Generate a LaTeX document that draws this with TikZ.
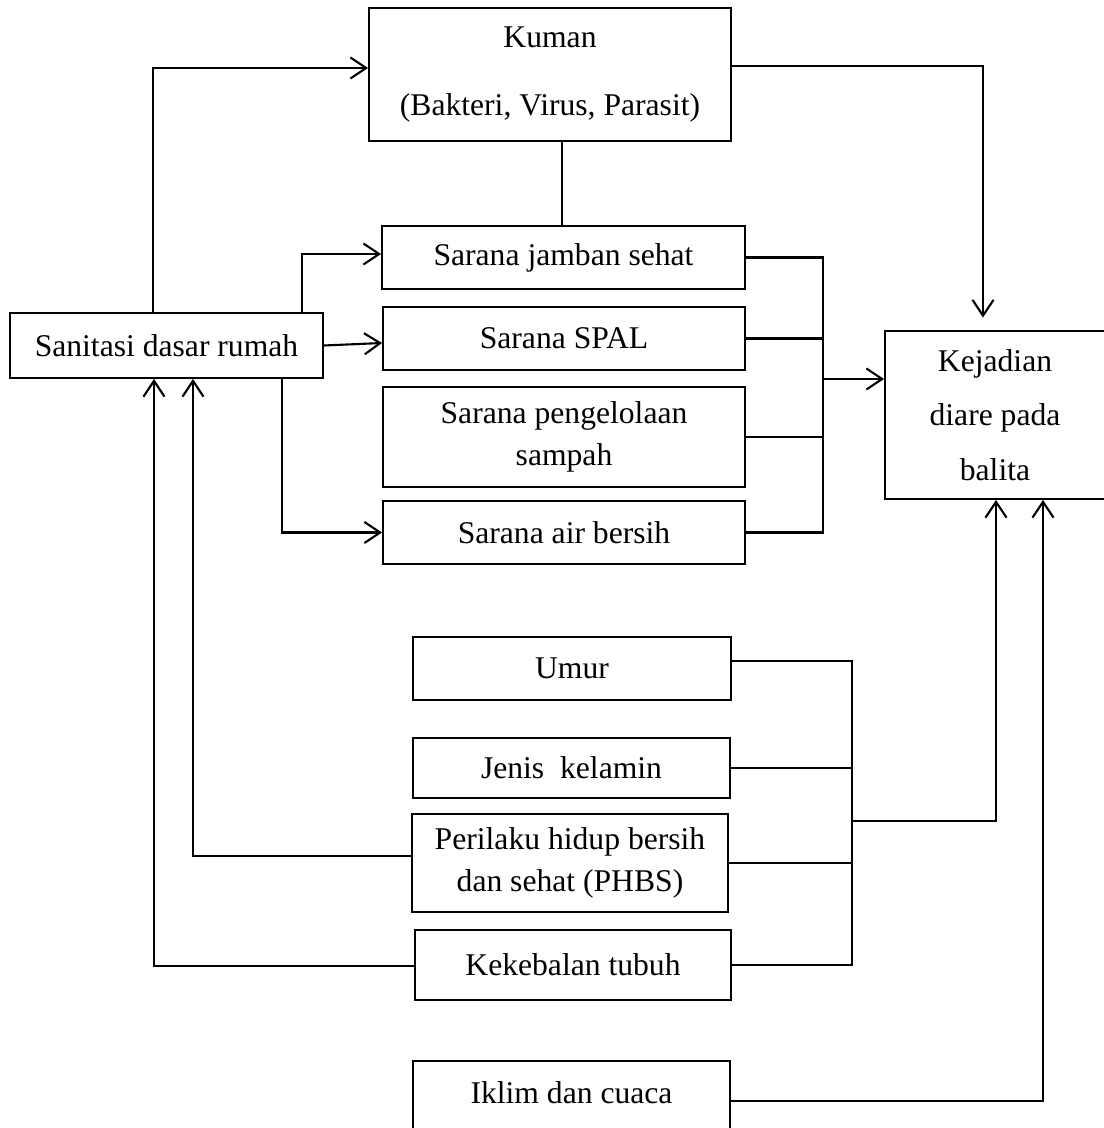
\documentclass[tikz,border=0pt]{standalone}
\usepackage{fontspec}
\setmainfont{Liberation Serif}
\usetikzlibrary{arrows.meta}

\tikzset{
    box/.style={draw, line width=1.1pt, align=center, inner sep=0pt,
        font=\fontsize{18}{22}\selectfont},
    wire/.style={line width=1.2pt}
}

\begin{document}
\begin{tikzpicture}[x=0.02cm, y=-0.02cm, >={Straight Barb[length=9pt,width=12pt]}]
    \useasboundingbox (0,0) rectangle (1104,1128);

    %Boxes
    \node[box, minimum width=7.24cm, minimum height=2.66cm] (kuman) at (550,74.5) {Kuman\\[17pt](Bakteri, Virus, Parasit)};
    \node[box, minimum width=6.26cm, minimum height=1.30cm] (sanitasi) at (166.5,345.5) {Sanitasi dasar rumah};
    \node[box, minimum width=7.26cm, minimum height=1.26cm] (jamban) at (563.5,257.5) {Sarana jamban sehat};
    \node[box, minimum width=7.24cm, minimum height=1.26cm] (spal) at (564,338.5) {Sarana SPAL};
    \node[box, minimum width=7.24cm, minimum height=2.00cm] (sampah) at (564,437) {Sarana pengelolaan\\[2pt]sampah};
    \node[box, minimum width=7.24cm, minimum height=1.26cm] (air) at (564,532.5) {Sarana air bersih};
    \node[box, minimum width=4.40cm, minimum height=3.36cm] (kejadian) at (995,415) {Kejadian\\[9pt]diare pada\\[9pt]balita};
    \node[box, minimum width=6.36cm, minimum height=1.26cm] (umur) at (572,668.5) {Umur};
    \node[box, minimum width=6.34cm, minimum height=1.20cm] (jenis) at (571.5,768) {Jenis\ \ kelamin};
    \node[box, minimum width=6.32cm, minimum height=1.96cm] (phbs) at (570,863) {Perilaku hidup bersih\\[2pt]dan sehat (PHBS)};
    \node[box, minimum width=6.32cm, minimum height=1.40cm] (kekebalan) at (573,965) {Kekebalan tubuh};
    \node[box, minimum width=6.34cm, minimum height=2.00cm, text height=12.3pt, text depth=20.5pt] (iklim) at (571.5,1111) {Iklim dan cuaca};

    %Bends
    \coordinate (cKuman) at (153,68);
    \coordinate (cKej) at (983,66);
    \coordinate (cMid) at (562,0);
    \coordinate (cJam) at (302,254);
    \coordinate (cSpal) at (383,343);
    \coordinate (cAir) at (282,0);
    \coordinate (bus1) at (823,0);
    \coordinate (cBus) at (823,379);
    \coordinate (bus2) at (852,821);
    \coordinate (cUmur) at (852,661);
    \coordinate (cUp) at (996,821);
    \coordinate (cIk) at (1043,1101);
    \coordinate (cPh) at (193,856);
    \coordinate (cKe) at (154,966);

    %Kuman
    \draw[wire,->] (cKuman |- sanitasi.north) -- (cKuman) -- (cKuman -| kuman.west);
    \draw[wire,->,shorten >=0.25cm] (cKej -| kuman.east) -- (cKej) -- (cKej |- kejadian.north);
    \draw[wire] (cMid |- kuman.south) -- (cMid |- jamban.north);
    %Sanitasi to sarana
    \draw[wire,->] (cJam |- sanitasi.north) -- (cJam) -- (cJam -| jamban.west);
    \draw[wire,->] (sanitasi.east) -- (spal.west |- cSpal);
    \draw[wire,->] (cAir |- sanitasi.south) |- (air.west);
    %Sarana to kejadian
    \draw[wire] (jamban.east) -- (jamban.east -| bus1) -- (air.east -| bus1) -- (air.east);
    \draw[wire] (spal.east) -- (spal.east -| bus1);
    \draw[wire] (sampah.east) -- (sampah.east -| bus1);
    \draw[wire,->] (cBus) -- (cBus -| kejadian.west);
    %Host factors
    \draw[wire] (cUmur -| umur.east) -- (cUmur) -- (kekebalan.east -| bus2) -- (kekebalan.east);
    \draw[wire] (jenis.east) -- (jenis.east -| bus2);
    \draw[wire] (phbs.east) -- (phbs.east -| bus2);
    \draw[wire,->] (bus2) -- (cUp) -- (cUp |- kejadian.south);
    %Iklim
    \draw[wire,->] (iklim.east |- cIk) -- (cIk) -- (cIk |- kejadian.south);
    %Feedback to sanitasi
    \draw[wire,->] (phbs.west |- cPh) -- (cPh) -- (cPh |- sanitasi.south);
    \draw[wire,->] (kekebalan.west |- cKe) -- (cKe) -- (cKe |- sanitasi.south);
\end{tikzpicture}
\end{document}
